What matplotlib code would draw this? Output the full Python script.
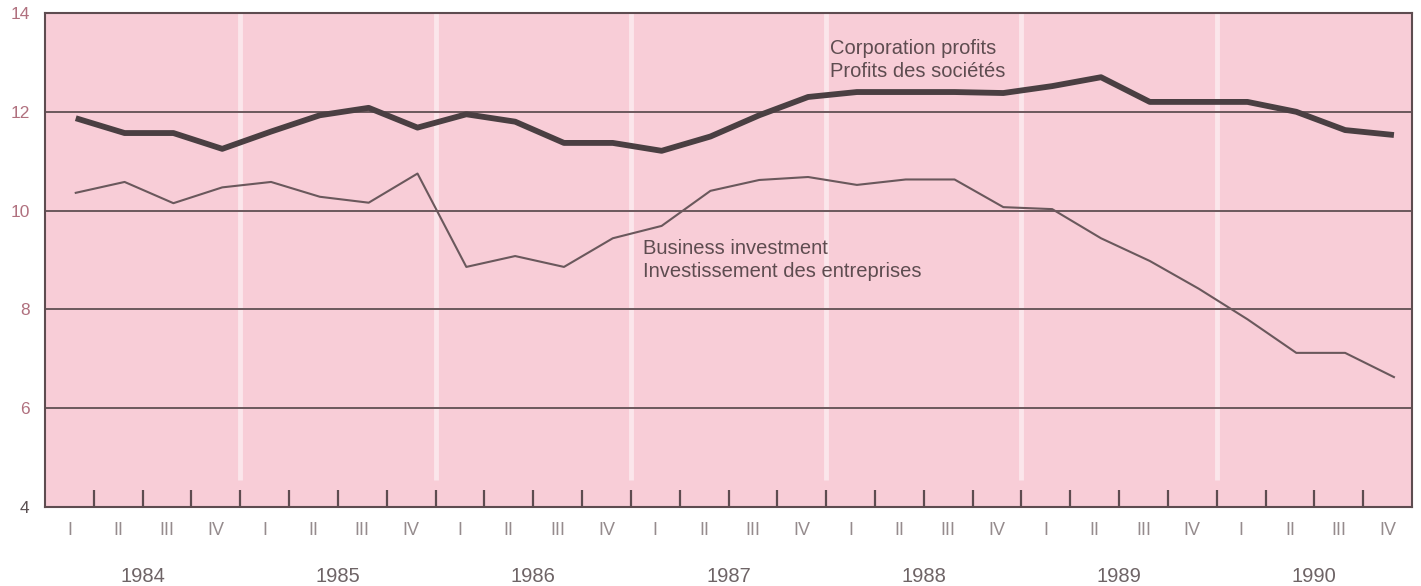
import numpy as np
import matplotlib.pyplot as plt

# quarterly data, 1984 I to 1990 IV
years = ['1984', '1985', '1986', '1987', '1988', '1989', '1990']
quarters = ['I', 'II', 'III', 'IV']
profits = [11.87, 11.57, 11.57, 11.25, 11.6, 11.93, 12.08, 11.68,
           11.95, 11.8, 11.37, 11.37, 11.21, 11.5, 11.93, 12.3,
           12.4, 12.4, 12.4, 12.38, 12.52, 12.7, 12.2, 12.2,
           12.2, 12.0, 11.63, 11.53]
investment = [10.36, 10.58, 10.15, 10.47, 10.58, 10.28, 10.16, 10.75,
              8.86, 9.08, 8.86, 9.44, 9.69, 10.4, 10.62, 10.68,
              10.52, 10.63, 10.63, 10.07, 10.03, 9.44, 8.98, 8.42,
              7.8, 7.12, 7.12, 6.63]
y_ticks = [4, 6, 8, 10, 12, 14]

plt.rcParams['font.family'] = ['Liberation Sans', 'DejaVu Sans']

pink = '#f8cdd7'
dark = '#5e4c50'
n = len(profits)
x = np.arange(n) + 0.63

fig = plt.figure(figsize=(14.21, 5.86), dpi=100)
ax = fig.add_axes([45 / 1421, 79 / 586, 1367 / 1421, 494 / 586])
ax.set_facecolor(pink)
ax.set_xlim(0, n)
ax.set_ylim(4, 14)

# year separators (soft white bands)
ax.vlines(range(4, n, 4), 4.55, 14, color='white', lw=3.5, alpha=0.5, zorder=1)
for yv in y_ticks[1:-1]:
    ax.axhline(yv, color='#6b585c', lw=1.4, zorder=2)

ax.plot(x, investment, color='#6a585c', lw=1.5, zorder=3)
ax.plot(x, profits, color='#4a3f42', lw=4.2, solid_capstyle='butt', zorder=4)

ax.text(16.08, 13.05, 'Corporation profits\nProfits des sociétés',
        fontsize=14.5, color=dark, linespacing=1.3, va='center', zorder=5)
ax.text(12.25, 9.0, 'Business investment\nInvestissement des entreprises',
        fontsize=14.5, color=dark, linespacing=1.3, va='center', zorder=5)

# axis: boundary ticks inside, quarter labels between them
ax.set_xticks(range(1, n))
ax.set_xticklabels([])
ax.tick_params(axis='x', which='major', direction='in', length=12, width=1.6, color=dark)
ax.set_xticks(np.arange(n) + 0.5, minor=True)
ax.set_xticklabels(quarters * len(years), minor=True)
ax.tick_params(axis='x', which='minor', length=0, pad=11, labelsize=13, labelcolor='#958b8d')

ax.set_yticks(y_ticks)
ax.set_yticklabels([str(v) for v in y_ticks])
ax.tick_params(axis='y', length=0, pad=11, labelsize=12.5, labelcolor='#b0707e')
ax.get_yticklabels()[0].set_color('#5a5052')

for i, yr in enumerate(years):
    ax.text(4 * i + 2, -0.14, yr, transform=ax.get_xaxis_transform(),
            ha='center', va='center', fontsize=14.5, color='#6e6466')

for s in ax.spines.values():
    s.set_color(dark)
    s.set_linewidth(1.5)

fig.savefig('out.png', dpi=100, facecolor='white')
